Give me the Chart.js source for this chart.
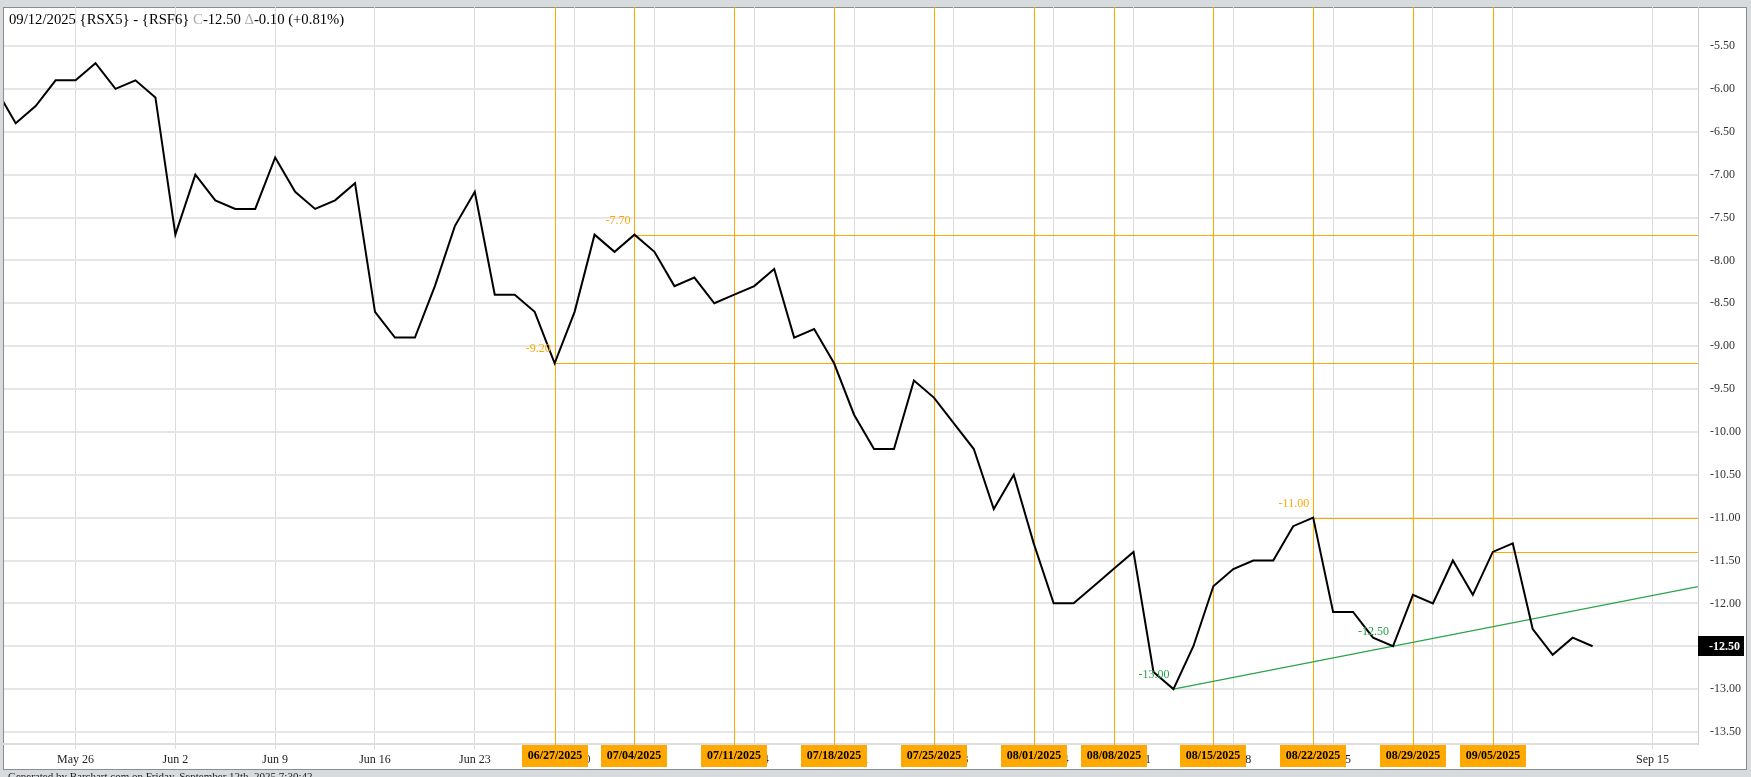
<!DOCTYPE html>
<html>
<head>
<meta charset="utf-8">
<script src="https://cdn.jsdelivr.net/npm/chart.js@4.4.1/dist/chart.umd.min.js"></script>
<style>
  html, body { margin:0; padding:0; background:#d7dbde; }
  #wrap { position:absolute; left:0; top:0; width:1751px; height:777px; }
</style>
</head>
<body>
<div id="wrap"><canvas id="spread" width="1751" height="777"></canvas></div>
<script>
// Trading-day slots (the last five are empty future slots on the axis).
const dates = [
  '05/20','05/21','05/22','05/23',
  '05/26','05/27','05/28','05/29','05/30',
  '06/02','06/03','06/04','06/05','06/06',
  '06/09','06/10','06/11','06/12','06/13',
  '06/16','06/17','06/18','06/19','06/20',
  '06/23','06/24','06/25','06/26','06/27',
  '06/30','07/01','07/02','07/03',
  '07/07','07/08','07/09','07/10','07/11',
  '07/14','07/15','07/16','07/17','07/18',
  '07/21','07/22','07/23','07/24','07/25',
  '07/28','07/29','07/30','07/31','08/01',
  '08/04','08/05','08/06','08/08',
  '08/11','08/12','08/13','08/14','08/15',
  '08/18','08/19','08/20','08/21','08/22',
  '08/25','08/26','08/27','08/28','08/29',
  '09/02','09/03','09/04','09/05',
  '09/08','09/09','09/10','09/11','09/12',
  '09/13','09/14','09/15','09/16','09/17'
];

// {RSX5} - {RSF6} closes
const spread = [
  -6.0, -6.4, -6.2, -5.9,
  -5.9, -5.7, -6.0, -5.9, -6.1,
  -7.7, -7.0, -7.3, -7.4, -7.4,
  -6.8, -7.2, -7.4, -7.3, -7.1,
  -8.6, -8.9, -8.9, -8.3, -7.6,
  -7.2, -8.4, -8.4, -8.6, -9.2,
  -8.6, -7.7, -7.9, -7.7,
  -7.9, -8.3, -8.2, -8.5, -8.4,
  -8.3, -8.1, -8.9, -8.8, -9.2,
  -9.8, -10.2, -10.2, -9.4, -9.6,
  -9.9, -10.2, -10.9, -10.5, -11.3,
  -12.0, -12.0, -11.8, -11.6,
  -11.4, -12.8, -13.0, -12.5, -11.8,
  -11.6, -11.5, -11.5, -11.1, -11.0,
  -12.1, -12.1, -12.4, -12.5, -11.9,
  -12.0, -11.5, -11.9, -11.4,
  -11.3, -12.3, -12.6, -12.4, -12.5
];

const weekStarts = ['05/26','06/02','06/09','06/16','06/23','06/30','07/07','07/14','07/21',
                    '07/28','08/04','08/11','08/18','08/25','09/02','09/08','09/15'];
const weekLabels = ['May 26','Jun 2','Jun 9','Jun 16','Jun 23','Jun 30','Jul 7','Jul 14','Jul 21',
                    'Jul 28','Aug 4','Aug 11','Aug 18','Aug 25','Sep 1','Sep 8','Sep 15'];

// weekly cycle markers (orange verticals + date boxes)
const cycleDates  = ['06/27','07/03','07/11','07/18','07/25','08/01','08/08','08/15','08/22','08/29','09/05'];
const cycleLabels = ['06/27/2025','07/04/2025','07/11/2025','07/18/2025','07/25/2025','08/01/2025',
                     '08/08/2025','08/15/2025','08/22/2025','08/29/2025','09/05/2025'];

// horizontal levels drawn from a close to the right edge
const levelDates = ['06/27','07/03','08/22','09/05'];
const levelShown = [true, true, true, false];

// support trend line through two lows
const trendDates = ['08/13','08/28'];

const yTicks = [-13.5,-13,-12.5,-12,-11.5,-11,-10.5,-10,-9.5,-9,-8.5,-8,-7.5,-7,-6.5,-6,-5.5];

const SERIF = '"Liberation Serif", "Times New Roman", serif';
const ORANGE = '#ffa800';
const GREEN = '#2aa44a';

const last = spread[spread.length - 1];
const prev = spread[spread.length - 2];
const chg = last - prev;
const pct = chg / prev * 100;

const idx = d => dates.indexOf(d);

const decor = {
  id: 'decor',
  beforeDraw(chart) {
    const { ctx, width, height } = chart;
    ctx.save();
    ctx.fillStyle = '#d7dbde';
    ctx.fillRect(0, 0, width, height);
    ctx.fillStyle = '#fff';
    ctx.fillRect(3, 7, 1744, 763);
    ctx.strokeStyle = '#8c8c8c';
    ctx.lineWidth = 1;
    ctx.strokeRect(3.5, 7.5, 1743, 762);
    ctx.restore();
  },
  beforeDatasetsDraw(chart) {
    const { ctx, chartArea: a, scales: { x, y } } = chart;
    ctx.save();
    ctx.beginPath();
    ctx.rect(a.left, a.top, a.right - a.left, a.bottom - a.top + 1);
    ctx.clip();
    ctx.strokeStyle = ORANGE;
    ctx.lineWidth = 1;
    cycleDates.forEach(d => {
      const px = Math.round(x.getPixelForValue(idx(d))) + 0.5;
      ctx.beginPath();
      ctx.moveTo(px, a.top);
      ctx.lineTo(px, a.bottom + 2);
      ctx.stroke();
    });
    levelDates.forEach(d => {
      const i = idx(d);
      const px = x.getPixelForValue(i);
      const py = Math.round(y.getPixelForValue(spread[i])) + 0.5;
      ctx.beginPath();
      ctx.moveTo(px, py);
      ctx.lineTo(a.right, py);
      ctx.stroke();
    });
    // trend line
    const i0 = idx(trendDates[0]), i1 = idx(trendDates[1]);
    const slope = (spread[i1] - spread[i0]) / (i1 - i0);
    ctx.strokeStyle = GREEN;
    ctx.lineWidth = 1.3;
    ctx.beginPath();
    ctx.moveTo(x.getPixelForValue(i0), y.getPixelForValue(spread[i0]));
    ctx.lineTo(a.right, y.getPixelForValue(spread[i0] + slope * (x.max - i0)));
    ctx.stroke();
    ctx.restore();
  },
  afterDraw(chart) {
    const { ctx, chartArea: a, scales: { x, y } } = chart;
    ctx.save();
    ctx.font = '12px ' + SERIF;
    ctx.textAlign = 'right';
    ctx.textBaseline = 'middle';
    ctx.fillStyle = ORANGE;
    levelDates.forEach((d, k) => {
      if (!levelShown[k]) return;
      const i = idx(d);
      ctx.fillText(spread[i].toFixed(2), x.getPixelForValue(i) - 4, y.getPixelForValue(spread[i]) - 14);
    });
    ctx.fillStyle = GREEN;
    trendDates.forEach(d => {
      const i = idx(d);
      ctx.fillText(spread[i].toFixed(2), x.getPixelForValue(i) - 4, y.getPixelForValue(spread[i]) - 14);
    });

    // cycle date boxes on the time axis
    ctx.font = 'bold 12px ' + SERIF;
    ctx.textAlign = 'center';
    cycleDates.forEach((d, k) => {
      const px = Math.round(x.getPixelForValue(idx(d)));
      ctx.fillStyle = ORANGE;
      ctx.fillRect(px - 33, a.bottom + 1, 66, 22);
      ctx.fillStyle = '#000';
      ctx.fillText(cycleLabels[k], px, a.bottom + 12);
    });

    // last value badge
    const ly = Math.round(y.getPixelForValue(last));
    ctx.fillStyle = '#000';
    ctx.fillRect(a.right, ly - 10, 46, 20);
    ctx.fillStyle = '#fff';
    ctx.textAlign = 'left';
    ctx.fillText(last.toFixed(2), a.right + 11, ly + 1);

    // title
    const parts = [
      ['09/12/2025 {RSX5} - {RSF6} ', '#000'],
      ['C', '#aaa'],
      [last.toFixed(2) + ' ', '#000'],
      ['\u0394', '#aaa'],
      [chg.toFixed(2) + ' (' + (pct >= 0 ? '+' : '') + pct.toFixed(2) + '%)', '#000']
    ];
    ctx.font = '14.7px ' + SERIF;
    ctx.textBaseline = 'middle';
    let tx = 9;
    parts.forEach(([t, c]) => {
      ctx.fillStyle = c;
      ctx.fillText(t, tx, 20);
      tx += ctx.measureText(t).width;
    });

    // footer (mostly cut by the window edge)
    ctx.font = '11px ' + SERIF;
    ctx.fillStyle = '#222';
    ctx.textBaseline = 'top';
    ctx.fillText('Generated by Barchart.com on Friday, September 12th, 2025 7:30:42', 8, 772);
    ctx.restore();
  }
};

new Chart(document.getElementById('spread'), {
  type: 'line',
  data: {
    datasets: [{
      label: '{RSX5} - {RSF6}',
      data: spread.map((v, i) => ({ x: i, y: v })),
      borderColor: '#000',
      borderWidth: 2,
      pointRadius: 0,
      tension: 0,
      clip: 0
    }]
  },
  options: {
    responsive: false,
    devicePixelRatio: 1,
    animation: false,
    layout: { padding: { left: 4, top: 7, right: 0, bottom: 0 } },
    plugins: { legend: { display: false }, tooltip: { enabled: false } },
    scales: {
      x: {
        type: 'linear',
        min: 0.414,
        max: 85.28,
        afterBuildTicks: s => { s.ticks = weekStarts.map(d => ({ value: idx(d) })); },
        afterFit: s => { s.height = 33; s.paddingLeft = 0; s.paddingRight = 0; },
        grid: { color: '#dcdcdc', lineWidth: 1, tickLength: 5 },
        border: { color: '#dddddd', width: 2 },
        ticks: {
          autoSkip: false, maxRotation: 0, padding: 4,
          color: '#222', font: { family: SERIF, size: 12 },
          callback: (v, i) => weekLabels[i]
        }
      },
      y: {
        position: 'right',
        min: -13.64,
        max: -5.045,
        afterBuildTicks: s => { s.ticks = yTicks.map(v => ({ value: v })); },
        afterFit: s => { s.width = 53; s.paddingTop = 0; s.paddingBottom = 0; },
        grid: { color: '#e6e6e6', lineWidth: 2, drawTicks: false },
        border: { color: '#cccccc', width: 1 },
        ticks: {
          padding: 12, color: '#333', font: { family: SERIF, size: 12 },
          callback: v => v.toFixed(2)
        }
      }
    }
  },
  plugins: [decor]
});
</script>
</body>
</html>
